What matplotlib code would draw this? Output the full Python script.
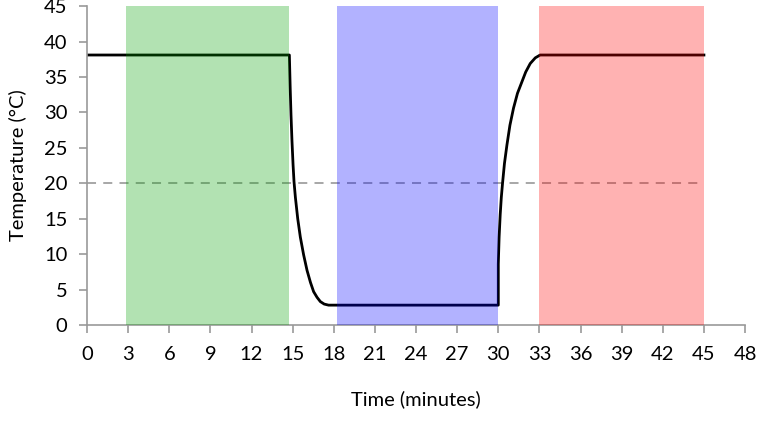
import matplotlib.pyplot as plt
import numpy as np

# --- data ---
time_min = [0, 14.76, 14.82, 14.88, 14.95, 15.03, 15.10, 15.20, 15.37, 15.56, 15.80,
            16.05, 16.30, 16.53, 16.78, 17.02, 17.30, 17.62,
            30.0, 30.0, 30.06, 30.14, 30.22, 30.31, 30.45, 30.63, 30.85, 31.11,
            31.40, 31.72, 32.00, 32.33, 32.70, 33.05, 45.0]
temp_c = [38.1, 38.1, 33.5, 29.6, 26.0, 22.6, 20.2, 18.0, 15.0, 12.4, 9.9,
          7.7, 6.0, 4.7, 3.9, 3.3, 2.95, 2.8,
          2.8, 8.6, 12.4, 15.6, 18.0, 20.0, 22.8, 25.4, 28.2, 30.6,
          32.7, 34.3, 35.7, 36.9, 37.7, 38.1, 38.1]

phase_start = [2.85, 18.2, 33.0]
phase_end = [14.75, 30.0, 45.0]
phase_colors = ['#00a000', '#0000ff', '#ff0000']

room_temp = 20
room_span = [0, 45]

plt.rcParams['font.family'] = ['Lato', 'DejaVu Sans']

fig = plt.figure(figsize=(7.64, 4.28), dpi=100)
ax = fig.add_axes([0.1139, 0.2407, 0.8613, 0.745])

ax.plot(time_min, temp_c, color='black', linewidth=2, zorder=2)
ax.plot(room_span, [room_temp, room_temp], color='#a0a0a0', linestyle=(0, (5, 4)),
        linewidth=1.3, zorder=1)

# shaded phases sit on top of the line (line shows through tinted)
for s, e, c in zip(phase_start, phase_end, phase_colors):
    ax.axvspan(s, e, color=c, alpha=0.3, linewidth=0, zorder=3)

ax.set_xlim(0, 48)
ax.set_ylim(0, 45)
ax.set_xticks(np.arange(0, 49, 3))
ax.set_yticks(np.arange(0, 46, 5))

for side in ['top', 'right']:
    ax.spines[side].set_visible(False)
for side in ['left', 'bottom']:
    ax.spines[side].set_color('#999999')
    ax.spines[side].set_linewidth(1.2)

ax.tick_params(axis='both', colors='#999999', labelcolor='black', labelsize=14.5,
               length=6, width=1.2)
ax.tick_params(axis='x', pad=9)
ax.tick_params(axis='y', pad=8)

ax.set_xlabel('Time (minutes)', fontsize=14.5, labelpad=20)
ax.set_ylabel('Temperature (°C)', fontsize=14.5, labelpad=12)

plt.savefig('out.png', dpi=100)
plt.close()
